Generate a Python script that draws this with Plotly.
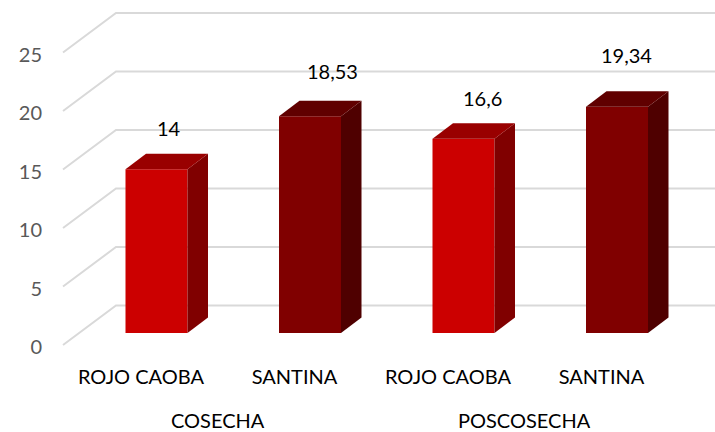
import plotly.graph_objects as go

# Data
groups = ["COSECHA", "POSCOSECHA"]
varieties = ["ROJO CAOBA", "SANTINA", "ROJO CAOBA", "SANTINA"]
values = [14, 18.53, 16.6, 19.34]
value_labels = ["14", "18,53", "16,6", "19,34"]
y_ticks = [0, 5, 10, 15, 20, 25]

# Styling / projection (pixels of the oblique 3D view)
W, H = 715, 432
PX_X = 153.5       # px per category
PX_Y = 11.7        # px per value unit
FRONT_C0 = 156.5   # px x of first bar centre
FRONT_Y0 = 333     # px y of the bar base
LABEL_C0 = 141     # px x of first category label
TICK_Y0 = 345      # px y of the value 0 at the front of the side wall
BAR_W = 62 / PX_X
DEPTH_X = 20.5 / PX_X
DEPTH_Y = 15.5 / PX_Y
WALL_FRONT_X = (63 - LABEL_C0) / PX_X
WALL_BACK_X = (116 - LABEL_C0) / PX_X
WALL_END_X = (W - LABEL_C0) / PX_X
WALL_RISE = 39.5 / PX_Y
front_face = ["#CC0000", "#800000", "#CC0000", "#800000"]
top_face = ["#990000", "#600000", "#990000", "#600000"]
side_face = ["#800000", "#4F0000", "#800000", "#4F0000"]
label_dx = [12, 22, 19, 9]
label_dy = [41, 45, 41, 52]
FONT = "Lato"

fig = go.Figure()

# Gridlines on the base axes, so that they sit under the bars
gx, gy = [], []
for t in y_ticks:
    gx += [WALL_FRONT_X, WALL_BACK_X, WALL_END_X, None]
    gy += [t, t + WALL_RISE, t + WALL_RISE, None]
fig.add_trace(go.Scatter(x=gx, y=gy, mode="lines", xaxis="x", yaxis="y",
                         line=dict(color="#D9D9D9", width=2), hoverinfo="skip",
                         showlegend=False))

# Front faces
fig.add_trace(go.Bar(x=list(range(len(values))), y=values, width=BAR_W,
                     marker=dict(color=front_face, line=dict(width=0)),
                     xaxis="x2", yaxis="y2", showlegend=False))

# Side and top faces derived from the values
for i, v in enumerate(values):
    l, r = i - BAR_W / 2, i + BAR_W / 2
    fig.add_trace(go.Scatter(
        x=[r, r + DEPTH_X, r + DEPTH_X, r, r], y=[0, DEPTH_Y, v + DEPTH_Y, v, 0],
        mode="lines", fill="toself", fillcolor=side_face[i], line=dict(width=0),
        xaxis="x2", yaxis="y2", hoverinfo="skip", showlegend=False))
    fig.add_trace(go.Scatter(
        x=[l, r, r + DEPTH_X, l + DEPTH_X, l], y=[v, v, v + DEPTH_Y, v + DEPTH_Y, v],
        mode="lines", fill="toself", fillcolor=top_face[i], line=dict(width=0),
        xaxis="x2", yaxis="y2", hoverinfo="skip", showlegend=False))

annotations = []
for i, (v, s) in enumerate(zip(values, value_labels)):
    annotations.append(dict(x=i, y=v, xref="x2", yref="y2", text=s, showarrow=False,
                            xshift=label_dx[i], yshift=label_dy[i],
                            font=dict(family=FONT, size=20, color="#000000")))
for k, g in enumerate(groups):
    annotations.append(dict(x=2 * k + 0.5, y=0, xref="x", yref="paper", text=g,
                            showarrow=False, yanchor="bottom", height=20,
                            font=dict(family=FONT, size=20, color="#000000")))

fig.update_layout(
    width=W, height=H, margin=dict(l=0, r=0, t=0, b=0),
    paper_bgcolor="white", plot_bgcolor="white", showlegend=False,
    annotations=annotations,
    xaxis=dict(range=[-LABEL_C0 / PX_X, (W - LABEL_C0) / PX_X], domain=[0, 1],
               anchor="free", position=1 - 363 / H, tickmode="array",
               tickvals=list(range(len(varieties))), ticktext=varieties,
               showgrid=False, zeroline=False, showline=False, ticks="",
               tickfont=dict(family=FONT, size=20, color="#000000")),
    yaxis=dict(range=[-(H - TICK_Y0) / PX_Y, TICK_Y0 / PX_Y], domain=[0, 1],
               anchor="free", position=42 / W, tickmode="array",
               tickvals=y_ticks, showgrid=False, zeroline=False, showline=False,
               ticks="", ticklabelshift=2,
               tickfont=dict(family=FONT, size=20, color="#595959")),
    xaxis2=dict(range=[-FRONT_C0 / PX_X, (W - FRONT_C0) / PX_X], domain=[0, 1],
                overlaying="x", anchor="y2", visible=False),
    yaxis2=dict(range=[-(H - FRONT_Y0) / PX_Y, FRONT_Y0 / PX_Y], domain=[0, 1],
                overlaying="y", anchor="x2", visible=False),
)

fig.write_html("out.html", config={"displayModeBar": False},
               post_script="document.body.style.margin='0';")
